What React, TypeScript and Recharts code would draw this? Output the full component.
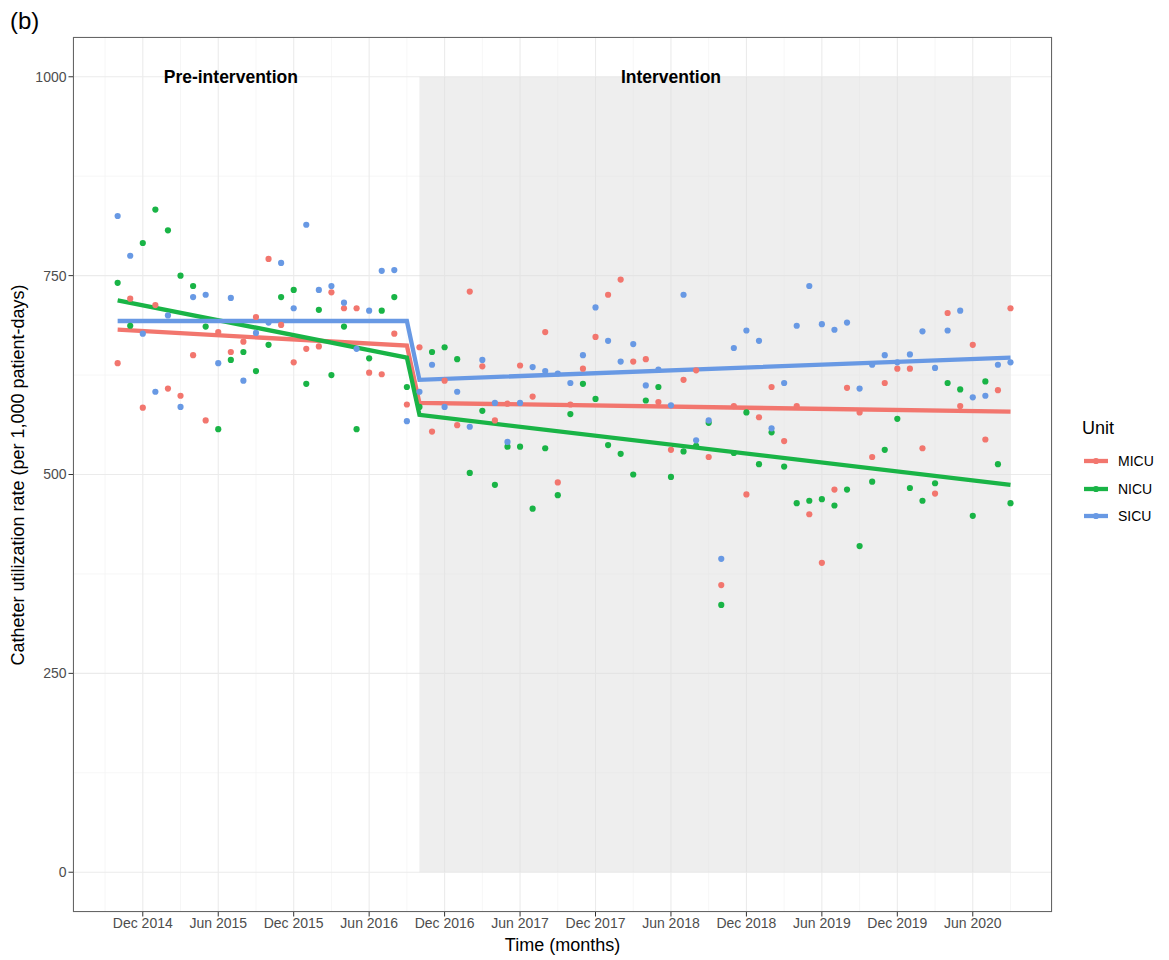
import { ComposedChart, Scatter, Line, XAxis, YAxis, CartesianGrid, ReferenceArea, ReferenceDot } from 'recharts'

// month index 0 = Oct 2014 ... 71 = Sep 2020
const MONTH_TICKS = [2, 8, 14, 20, 26, 32, 38, 44, 50, 56, 62, 68]
const MONTH_TICK_LABELS = ['Dec 2014', 'Jun 2015', 'Dec 2015', 'Jun 2016', 'Dec 2016', 'Jun 2017', 'Dec 2017', 'Jun 2018', 'Dec 2018', 'Jun 2019', 'Dec 2019', 'Jun 2020']
const MONTH_MINOR = [-1, 5, 11, 17, 23, 29, 35, 41, 47, 53, 59, 65, 71]
const Y_TICKS = [0, 250, 500, 750, 1000]
const Y_MINOR = [125, 375, 625, 875]

const MICU = [640, 721, 584, 713, 608, 599, 650, 568, 679, 654, 667, 698, 771, 688, 641, 658, 661, 729, 709, 709, 628, 626, 677, 588,
  660, 554, 618, 562, 730, 636, 568, 589, 637, 598, 679, 490, 588, 633, 673, 726, 745, 642, 645, 591, 531, 619, 631, 522,
  361, 586, 475, 572, 610, 542, 586, 450, 389, 481, 609, 578, 522, 615, 633, 633, 533, 476, 703, 586, 663, 544, 606, 709]
const NICU = [741, 687, 791, 833, 807, 750, 737, 686, 557, 644, 654, 630, 663, 723, 732, 614, 707, 625, 686, 557, 646, 706, 723, 610,
  585, 654, 660, 645, 502, 580, 487, 535, 535, 457, 533, 474, 576, 614, 595, 537, 526, 500, 593, 610, 497, 529, 536, 565,
  336, 527, 578, 513, 553, 510, 464, 467, 469, 461, 481, 410, 491, 531, 570, 483, 467, 489, 615, 607, 448, 617, 513, 464]
const SICU = [825, 775, 677, 604, 700, 585, 723, 726, 640, 722, 618, 678, 691, 766, 709, 814, 732, 737, 716, 658, 706, 756, 757, 567,
  604, 638, 585, 604, 560, 644, 590, 541, 590, 635, 630, 627, 615, 650, 710, 668, 642, 664, 612, 632, 587, 726, 543, 568,
  394, 659, 681, 668, 558, 615, 687, 737, 689, 682, 691, 608, 638, 650, 641, 651, 680, 634, 681, 706, 597, 599, 638, 641]

// segmented regression: ends of pre-intervention and intervention segments
const FIT_MONTHS = [0, 23, 24, 71]
const MICU_FIT = [682, 662, 590, 579]
const NICU_FIT = [719, 647, 575, 487]
const SICU_FIT = [693, 693, 619, 647]

const INTERVENTION_START = 24
const INTERVENTION_END = 71

const UNITS = [
  { name: 'MICU', color: '#F2766E', values: MICU, fit: MICU_FIT },
  { name: 'NICU', color: '#19B446', values: NICU, fit: NICU_FIT },
  { name: 'SICU', color: '#6899E4', values: SICU, fit: SICU_FIT },
]

const FONT = '"Liberation Sans", Arial, Helvetica, sans-serif'
const X_DOMAIN = [-3.55, 74.3]
const Y_DOMAIN = [-50, 1050]

const Dot = (props: any) => {
  const { cx, cy, fill } = props
  if (cx == null || cy == null) return null
  return <circle cx={cx} cy={cy} r={3.1} fill={fill} />
}

export default function App() {
  const series = UNITS.map(u => ({
    ...u,
    points: u.values.map((v, m) => ({ m, v })),
    line: FIT_MONTHS.map((m, i) => ({ m, v: u.fit[i] })),
  }))

  return (
    <div style={{ position: 'absolute', left: 0, top: 0, width: 1169, height: 960, background: '#fff', fontFamily: FONT }}>
      <ComposedChart width={1169} height={960} margin={{ top: 37, right: 117, bottom: 0, left: 0 }} style={{ fontFamily: FONT }}>
        <XAxis xAxisId="minor" type="number" dataKey="m" domain={X_DOMAIN} ticks={MONTH_MINOR} allowDataOverflow hide />
        <YAxis yAxisId="minor" type="number" domain={Y_DOMAIN} ticks={Y_MINOR} allowDataOverflow hide />
        <XAxis
          type="number"
          dataKey="m"
          domain={X_DOMAIN}
          ticks={MONTH_TICKS}
          allowDataOverflow
          interval={0}
          height={48}
          tickFormatter={(m: number) => MONTH_TICK_LABELS[MONTH_TICKS.indexOf(m)]}
          tick={{ fontSize: 14, fill: '#4D4D4D', fontFamily: FONT }}
          tickSize={4.5}
          tickLine={{ stroke: '#333' }}
          axisLine={false}
        />
        <YAxis
          type="number"
          dataKey="v"
          domain={Y_DOMAIN}
          ticks={Y_TICKS}
          allowDataOverflow
          interval={0}
          width={73}
          tick={{ fontSize: 14, fill: '#4D4D4D', fontFamily: FONT }}
          tickSize={4.5}
          tickLine={{ stroke: '#333' }}
          axisLine={false}
        />
        <CartesianGrid xAxisId="minor" yAxisId="minor" stroke="#F4F4F4" strokeWidth={0.8} />
        <CartesianGrid stroke="#EBEBEB" strokeWidth={1.1} />
        <ReferenceArea x1={INTERVENTION_START} x2={INTERVENTION_END} y1={0} y2={1000} fill="#DDDDDD" fillOpacity={0.5} stroke="none" />
        {series.map(s => (
          <Scatter key={s.name} name={s.name} data={s.points} dataKey="v" fill={s.color} shape={<Dot />} isAnimationActive={false} />
        ))}
        {series.map(s => (
          <Line key={s.name + '-fit'} data={s.line} dataKey="v" type="linear" stroke={s.color} strokeWidth={4.3} dot={false}
            activeDot={false} isAnimationActive={false} legendType="none" />
        ))}
        <ReferenceDot x={9} y={1000} r={0} stroke="none" fill="none"
          label={{ value: 'Pre-intervention', position: 'center', fontSize: 17.5, fontWeight: 'bold', fill: '#000', fontFamily: FONT }} />
        <ReferenceDot x={44} y={1000} r={0} stroke="none" fill="none"
          label={{ value: 'Intervention', position: 'center', fontSize: 17.5, fontWeight: 'bold', fill: '#000', fontFamily: FONT }} />
      </ComposedChart>

      {/* panel border */}
      <div style={{ position: 'absolute', left: 73, top: 37, width: 979, height: 875, border: '1px solid #666', boxSizing: 'border-box', pointerEvents: 'none' }} />

      <div style={{ position: 'absolute', left: 10, top: 9, fontSize: 24, lineHeight: 1 }}>(b)</div>

      <div style={{ position: 'absolute', left: 18, top: 474.5, transform: 'translate(-50%, -50%) rotate(-90deg)', whiteSpace: 'nowrap', fontSize: 18, lineHeight: 1 }}>
        Catheter utilization rate (per 1,000 patient-days)
      </div>
      <div style={{ position: 'absolute', left: 562.5, top: 945, transform: 'translate(-50%, -50%)', whiteSpace: 'nowrap', fontSize: 18, lineHeight: 1 }}>
        Time (months)
      </div>

      {/* legend */}
      <div style={{ position: 'absolute', left: 1082, top: 419, fontSize: 18, lineHeight: 1 }}>Unit</div>
      {UNITS.map((u, i) => (
        <div key={u.name} style={{ position: 'absolute', left: 1081, top: 447 + i * 27.5, height: 28, display: 'flex', alignItems: 'center' }}>
          <svg width={30} height={28}>
            <line x1={3} y1={14} x2={27} y2={14} stroke={u.color} strokeWidth={4.3} />
            <circle cx={15} cy={14} r={3.1} fill={u.color} />
          </svg>
          <span style={{ marginLeft: 7, fontSize: 14, color: '#000' }}>{u.name}</span>
        </div>
      ))}
    </div>
  )
}
